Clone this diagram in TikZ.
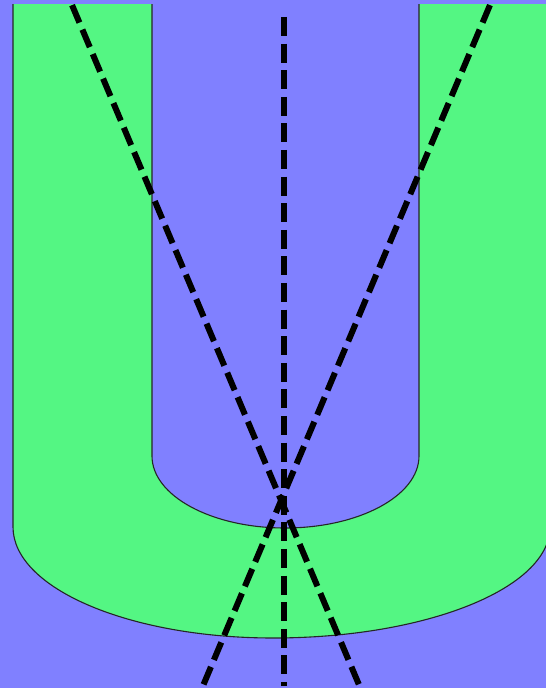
\documentclass[tikz,border=0pt]{standalone}
\definecolor{bgblue}{RGB}{128,128,255}
\definecolor{ugreen}{RGB}{84,246,131}
\tikzset{
  guide/.style={line width=6pt, dash pattern=on 19pt off 7.6pt, black},
  ushape/.style={fill=ugreen, draw=black!85, line width=1.1pt},
}
\begin{document}
\begin{tikzpicture}[x=1pt,y=1pt]
\fill[bgblue] (0,0) rectangle (546,688);
\useasboundingbox (0,0) rectangle (546,688);
\begin{scope}
  \clip (0,0) rectangle (546,683);
  \path[ushape] (13,700) -- (13,161)
    arc[start angle=180,end angle=270,x radius=260,y radius=111]
    arc[start angle=270,end angle=360,x radius=277,y radius=111]
    -- (550,700) -- (419,700) -- (419,232)
    arc[start angle=0,end angle=-90,x radius=134,y radius=72]
    arc[start angle=-90,end angle=-180,x radius=133,y radius=72]
    -- (152,700) -- cycle;
  \coordinate (l1a) at (61.7,707.4);
  \coordinate (l1b) at (361.2,-2);
  \coordinate (l2a) at (500.3,707.4);
  \coordinate (l2b) at (201.2,-2);
  \coordinate (va) at (284,671);
  \coordinate (vb) at (284,2);
  \draw[guide] (l1a) -- (l1b);
  \draw[guide] (l2a) -- (l2b);
  \draw[guide] (va) -- (vb);
\end{scope}
\end{tikzpicture}
\end{document}
